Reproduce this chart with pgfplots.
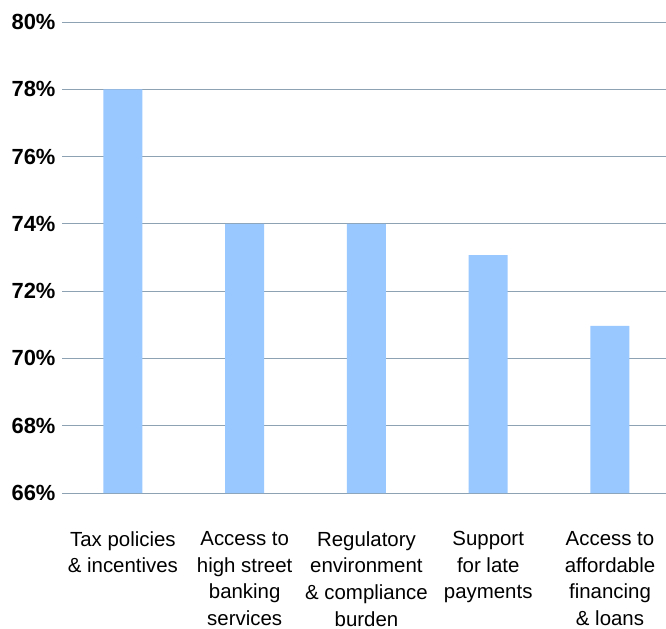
\documentclass[border=0pt]{standalone}
\usepackage{pgfplots}
\pgfplotsset{compat=1.18}
\usepackage{fontspec}
\setmainfont{Liberation Sans}
\definecolor{barblue}{HTML}{99C7FF}
\definecolor{gridc}{HTML}{8DA2B3}
\begin{document}
\begin{tikzpicture}[x=1bp,y=1bp]
\useasboundingbox (0,0) rectangle (666,-629);
\begin{axis}[
  at={(62bp,-493bp)}, anchor=south west,
  scale only axis, width=604bp, height=471bp,
  xmin=-0.5, xmax=4.46, ymin=66, ymax=80,
  axis line style={draw=none},
  tick style={draw=none},
  ytick={66,68,...,80},
  xtick={0,1,2,3,4},
  xticklabels={{Tax policies\\\& incentives},{Access to\\high street\\banking\\services},{Regulatory\\environment\\\& compliance\\burden},{Support\\for late\\payments},{Access to\\affordable\\financing\\\& loans}},
  major tick length=0pt,
  ymajorgrids, grid style={draw=gridc, line width=1bp},
  /pgf/number format/assume math mode=true,
  yticklabel={\pgfmathprintnumber{\tick}\%},
  yticklabel style={font=\bfseries\fontsize{22}{22}\selectfont, xshift=-3bp},
  xticklabel style={font=\fontsize{20.5}{26.7}\selectfont, align=center, yshift=-35bp},
  clip=false,
]
\addplot[ybar, bar width=39bp, fill=barblue, draw=none] coordinates {(0,78) (1,74) (2,74) (3,73.07) (4,70.97)};
\end{axis}
\end{tikzpicture}
\end{document}
